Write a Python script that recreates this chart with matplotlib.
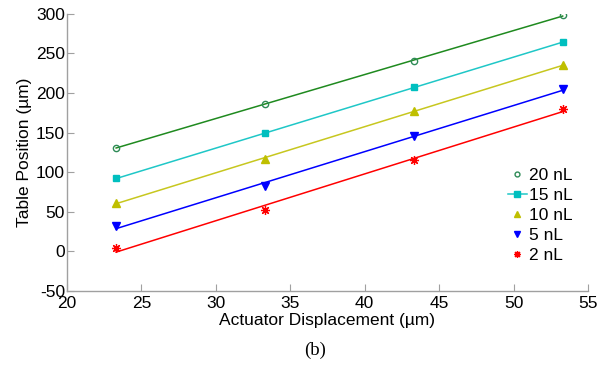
import numpy as np
import matplotlib
matplotlib.use("Agg")
import matplotlib.pyplot as plt
from matplotlib.lines import Line2D

plt.rcParams['font.family'] = ['Liberation Sans', 'DejaVu Sans']
plt.rcParams['axes.unicode_minus'] = False

x = [23.3, 33.3, 43.3, 53.3]
labels = ["20 nL", "15 nL", "10 nL", "5 nL", "2 nL"]
y20 = [131, 186, 240, 298]
y15 = [92, 149, 207, 264]
y10 = [61, 117, 177, 235]
y5 = [32, 82, 145, 205]
y2 = [4, 52, 115, 180]
series = [y20, y15, y10, y5, y2]

line_colors = ['#1f8a1f', '#1fc7c7', '#c7c71f', '#0000ff', '#ff0000']
marker_colors = ['#2e8b57', '#00bfbf', '#bfbf00', '#0000ff', '#ff0000']
markers = ['o', 's', '^', 'v', (8, 2, 0)]
msizes = [4.5, 4.3, 5.5, 5.5, 6.5]

FS = 12.5

fig = plt.figure(figsize=(6.16, 3.67), dpi=100)
ax = fig.add_axes([0.1088, 0.2071, 0.8457, 0.7556])

xa = np.array(x)
handles = []
for ys, lc, mc, m, ms, lab in zip(series, line_colors, marker_colors, markers, msizes, labels):
    p = np.polyfit(xa, np.array(ys), 1)
    ax.plot(xa, np.polyval(p, xa), color=lc, lw=1.1, zorder=2)
    if m == 'o':
        ax.plot(xa, ys, linestyle='none', marker=m, ms=ms, mfc='none', mec=mc, mew=1.0, zorder=3)
        h = Line2D([], [], linestyle='none', marker=m, ms=3.5, mfc='none', mec=mc, mew=1.0)
    elif m == 's':
        ax.plot(xa, ys, linestyle='none', marker=m, ms=ms, mfc=mc, mec=mc, zorder=3)
        h = Line2D([], [], color=lc, lw=1.1, marker=m, ms=3.8, mfc=mc, mec=mc)
    elif isinstance(m, tuple):
        ax.plot(xa, ys, linestyle='none', marker=m, ms=ms, mfc=mc, mec=mc, mew=0.9, zorder=3)
        h = Line2D([], [], linestyle='none', marker=m, ms=5, mfc=mc, mec=mc, mew=0.9)
    else:
        ax.plot(xa, ys, linestyle='none', marker=m, ms=ms, mfc=mc, mec=mc, zorder=3)
        h = Line2D([], [], linestyle='none', marker=m, ms=4.3, mfc=mc, mec=mc)
    handles.append(h)

ax.set_xlim(20, 55)
ax.set_ylim(-50, 300)
ax.set_xticks(np.arange(20, 56, 5))
ax.set_yticks(np.arange(-50, 301, 50))
for s in ['top', 'right']:
    ax.spines[s].set_visible(False)
for s in ['left', 'bottom']:
    ax.spines[s].set_color('#a0a0a0')
    ax.spines[s].set_linewidth(1.0)
ax.tick_params(direction='in', length=5, width=0.8, color='#a0a0a0', labelsize=FS, labelcolor='black')
ax.tick_params(axis='x', pad=3.5)
ax.tick_params(axis='y', pad=1.5)

ax.set_xlabel('Actuator Displacement (µm)', fontsize=FS, labelpad=1.5)
ax.set_ylabel('Table Position (µm)', fontsize=FS, labelpad=3)

leg = ax.legend(handles, labels, loc='upper left', bbox_to_anchor=(0.846, 0.443), frameon=False,
                fontsize=FS, handlelength=1.1, handletextpad=0.15, labelspacing=0.28,
                borderaxespad=0, borderpad=0)

fig.text(0.511, 0.046, '(b)', ha='center', va='center', fontsize=13.5,
         family=['Liberation Serif', 'DejaVu Serif'])

fig.savefig('out.png', dpi=100)
